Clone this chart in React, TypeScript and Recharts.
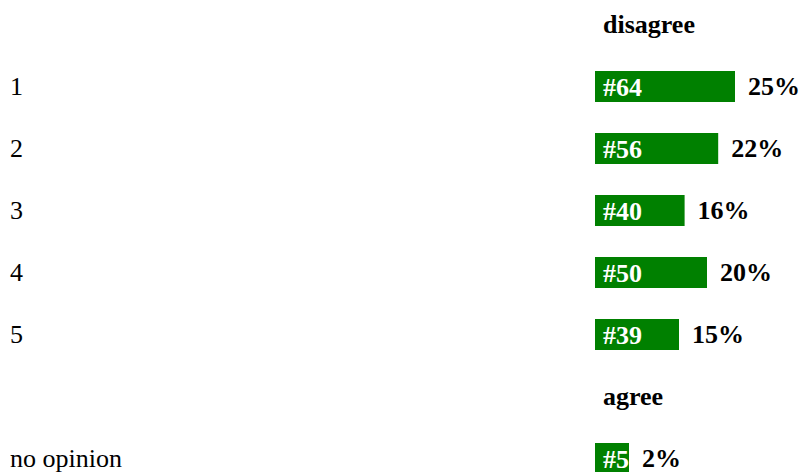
import { Bar, BarChart, XAxis, YAxis } from "recharts";

const rows = ["disagree", "1", "2", "3", "4", "5", "agree", "no opinion"];
const headers = ["disagree", "agree"];
const counts = [null, 64, 56, 40, 50, 39, null, 5];
const percents = [null, 25, 22, 16, 20, 15, null, 2];

const FONT = "'Liberation Serif', 'Times New Roman', serif";
const SIZE = 26;
const GREEN = "#008000";

const data = rows.map((label, i) => ({
    label,
    count: counts[i],
    pct: percents[i],
}));

const RowTick = (props: any) => {
    const { y, payload } = props;
    const label = payload.value;
    const isHeader = headers.includes(label);
    return (
        <text
            x={isHeader ? 603 : 10}
            y={y}
            dy={isHeader ? 8.5 : 9.2}
            textAnchor="start"
            fontFamily={FONT}
            fontSize={SIZE}
            fontWeight={isHeader ? "bold" : "normal"}
            fill="#000"
        >
            {label}
        </text>
    );
};

const CountBar = (props: any) => {
    const { x, y, width, height, payload } = props;
    if (payload == null || payload.count == null) return null;
    const tag = `#${payload.count}`;
    // the bar never gets narrower than its own label
    const w = Math.max(width, 8 + tag.length * SIZE * 0.5);
    const mid = y + height / 2;
    return (
        <g>
            <rect x={x} y={y} width={w} height={height} fill={GREEN} />
            <text
                x={x + 8}
                y={mid}
                dy={9.5}
                fontFamily={FONT}
                fontSize={SIZE}
                fontWeight="bold"
                fill="#fff"
            >
                {tag}
            </text>
            <text
                x={x + w + 13}
                y={mid}
                dy={8}
                fontFamily={FONT}
                fontSize={SIZE}
                fontWeight="bold"
                fill="#000"
            >
                {`${payload.pct}%`}
            </text>
        </g>
    );
};

export default function App() {
    return (
        <div
            style={{
                position: "absolute",
                left: 0,
                top: 0,
                width: 802,
                height: 472,
                overflow: "hidden",
                background: "#fff",
            }}
        >
            <div style={{ position: "absolute", left: 0, top: -7 }}>
                <BarChart
                    width={802}
                    height={496}
                    data={data}
                    layout="vertical"
                    margin={{ top: 0, right: 5.4, left: 0, bottom: 0 }}
                >
                    <XAxis type="number" domain={[0, 36]} hide />
                    <YAxis
                        type="category"
                        dataKey="label"
                        width={595}
                        axisLine={false}
                        tickLine={false}
                        interval={0}
                        tick={<RowTick />}
                    />
                    <Bar
                        dataKey="pct"
                        barSize={31}
                        shape={<CountBar />}
                        isAnimationActive={false}
                    />
                </BarChart>
            </div>
        </div>
    );
}
